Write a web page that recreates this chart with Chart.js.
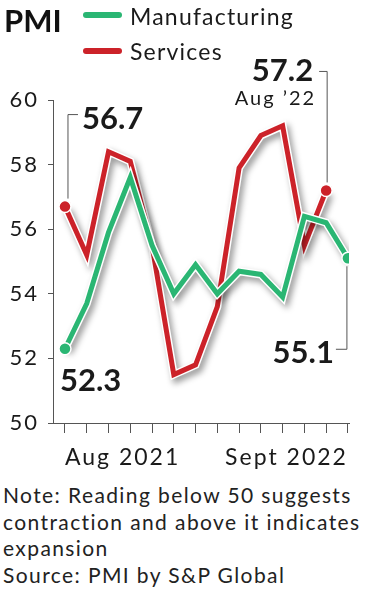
<!DOCTYPE html>
<html>
<head>
<meta charset="utf-8">
<script src="https://cdn.jsdelivr.net/npm/chart.js@4.4.0/dist/chart.umd.min.js"></script>
<style>
  body { margin: 0; background: #fff; }
  #wrap { position: relative; width: 374px; height: 594px; overflow: hidden; font-family: Lato, sans-serif; color: #1a1a1a; }
  #box { position: absolute; left: 0; top: 0; width: 374px; height: 480px; }
  .t { position: absolute; line-height: 1; white-space: nowrap; }
  .sw { position: absolute; width: 39px; height: 6px; border-radius: 3px; }
  #note { position: absolute; left: 3px; top: 482px; font-size: 21px; line-height: 26.5px; letter-spacing: 1.4px; color: #222; white-space: nowrap; }
</style>
</head>
<body>
<div id="wrap">
  <div id="box"><canvas id="chart"></canvas></div>
  <div class="t" style="left:4px;top:5px;font-size:31px;font-weight:bold;color:#111">PMI</div>
  <div class="sw" style="left:83px;top:12px;background:#2ab673"></div>
  <div class="t" style="left:130px;top:5px;font-size:23px;letter-spacing:1.2px">Manufacturing</div>
  <div class="sw" style="left:83px;top:48px;background:#cc2229"></div>
  <div class="t" style="left:130px;top:40px;font-size:23px;letter-spacing:1.2px">Services</div>
  <div id="note">Note: Reading below 50 suggests<br>contraction and above it indicates<br>expansion<br>Source: PMI by S&amp;P Global</div>
</div>
<script>
// Aug 2021 .. Sept 2022
const months = ['Aug 2021', 'Sep 2021', 'Oct 2021', 'Nov 2021', 'Dec 2021', 'Jan 2022', 'Feb 2022',
  'Mar 2022', 'Apr 2022', 'May 2022', 'Jun 2022', 'Jul 2022', 'Aug 2022', 'Sept 2022'];
const tickLabels = ['Aug 2021', 'Sept 2022'];
const manufacturing = [52.3, 53.7, 55.9, 57.6, 55.5, 54.0, 54.9, 54.0, 54.7, 54.6, 53.9, 56.4, 56.2, 55.1];
// services series stops at Aug '22
const services = [56.7, 55.2, 58.4, 58.1, 55.5, 51.5, 51.8, 53.6, 57.9, 58.9, 59.2, 55.5, 57.2];
const yTicks = [50, 52, 54, 56, 58, 60];

const GREEN = '#2ab673';
const RED = '#cc2229';
const INK = '#1a1a1a';

const toPoints = arr => arr.map((v, i) => ({ x: i, y: v }));
const endDot = n => ctx => (ctx.dataIndex === 0 || ctx.dataIndex === n - 1) ? 6 : 0;

// wider tracking for the light axis text
const spacingPlugin = {
  id: 'spacing',
  beforeDraw(chart) { chart.ctx.letterSpacing = '2px'; }
};

const shadowPlugin = {
  id: 'shadow',
  beforeDatasetDraw(chart, args) {
    if (!args.meta._dataset.shadow) return;
    const c = chart.ctx;
    c.save();
    c.shadowColor = 'rgba(0,0,0,0.4)';
    c.shadowBlur = 6;
    c.shadowOffsetX = 3;
    c.shadowOffsetY = 4;
  },
  afterDatasetDraw(chart, args) {
    if (args.meta._dataset.shadow) chart.ctx.restore();
  }
};

// value callouts with leader lines
const calloutPlugin = {
  id: 'callouts',
  afterDraw(chart) {
    const c = chart.ctx;
    const pt = (ds, i) => chart.getDatasetMeta(ds).data[i];
    const sv = services, mf = manufacturing;
    c.save();
    c.letterSpacing = '0px';
    c.strokeStyle = '#555';
    c.lineWidth = 1;
    c.fillStyle = INK;
    c.textBaseline = 'middle';
    const bold = 'bold 31px Lato';

    // services first
    let p = pt(2, 0);
    c.beginPath();
    c.moveTo(p.x + 3, p.y - 8);
    c.lineTo(p.x + 3, p.y - 92);
    c.lineTo(p.x + 13, p.y - 92);
    c.stroke();
    c.font = bold; c.textAlign = 'left';
    c.fillText(sv[0].toFixed(1), p.x + 17, p.y - 88);

    // services last
    p = pt(2, sv.length - 1);
    c.beginPath();
    c.moveTo(p.x + 1, p.y - 8);
    c.lineTo(p.x + 1, p.y - 119);
    c.lineTo(p.x - 7, p.y - 119);
    c.stroke();
    c.textAlign = 'right';
    c.fillText(sv[sv.length - 1].toFixed(1), p.x - 13, p.y - 119);
    c.font = '20px Lato';
    c.letterSpacing = '2px';
    c.fillText("Aug \u201922", p.x - 10, p.y - 92);
    c.letterSpacing = '0px';

    // manufacturing first
    p = pt(0, 0);
    c.font = bold; c.textAlign = 'left';
    c.fillText(mf[0].toFixed(1), p.x - 5, p.y + 32);

    // manufacturing last
    p = pt(0, mf.length - 1);
    c.beginPath();
    c.moveTo(p.x - 1, p.y + 8);
    c.lineTo(p.x - 1, p.y + 91);
    c.lineTo(p.x - 12, p.y + 91);
    c.stroke();
    c.textAlign = 'right';
    c.fillText(mf[mf.length - 1].toFixed(1), p.x - 14, p.y + 95);
    c.restore();
  }
};

new Chart(document.getElementById('chart'), {
  type: 'line',
  data: {
    datasets: [
      {
        label: 'Manufacturing', data: toPoints(manufacturing), order: 0,
        borderColor: GREEN, borderWidth: 5, backgroundColor: GREEN,
        pointRadius: endDot(manufacturing.length), pointBackgroundColor: GREEN,
        pointBorderColor: '#fff', pointBorderWidth: 1.5
      },
      {
        label: 'm-outline', data: toPoints(manufacturing), order: 1, shadow: true,
        borderColor: '#fff', borderWidth: 8, pointRadius: 0
      },
      {
        label: 'Services', data: toPoints(services), order: 2,
        borderColor: RED, borderWidth: 5, backgroundColor: RED,
        pointRadius: endDot(services.length), pointBackgroundColor: RED,
        pointBorderColor: '#fff', pointBorderWidth: 1.5
      },
      {
        label: 's-outline', data: toPoints(services), order: 3, shadow: true,
        borderColor: '#fff', borderWidth: 8, pointRadius: 0
      }
    ]
  },
  options: {
    responsive: true,
    maintainAspectRatio: false,
    animation: false,
    layout: { padding: { top: 100, left: 5, right: 25, bottom: 0 } },
    elements: { line: { tension: 0 } },
    plugins: { legend: { display: false }, tooltip: { enabled: false } },
    scales: {
      x: {
        type: 'linear',
        min: -0.55,
        max: 13.05,
        afterBuildTicks(scale) { scale.ticks = months.map((m, i) => ({ value: i })); },
        afterFit(scale) { scale.height = 57; },
        ticks: {
          autoSkip: false, maxRotation: 0, align: 'inner', padding: 11,
          color: INK, font: { family: 'Lato', size: 23 },
          callback: (v) => tickLabels.includes(months[v]) ? months[v] : ''
        },
        grid: { drawOnChartArea: false, tickLength: 10, color: '#555' },
        border: { color: '#555' }
      },
      y: {
        min: 50, max: 60,
        afterBuildTicks(scale) { scale.ticks = yTicks.map(v => ({ value: v })); },
        afterFit(scale) { scale.width = 48; },
        ticks: { padding: 9, color: INK, font: { family: 'Lato', size: 22 } },
        grid: { drawOnChartArea: false, tickLength: 5, color: '#555' },
        border: { color: '#555' }
      }
    }
  },
  plugins: [spacingPlugin, shadowPlugin, calloutPlugin]
});
</script>
</body>
</html>
